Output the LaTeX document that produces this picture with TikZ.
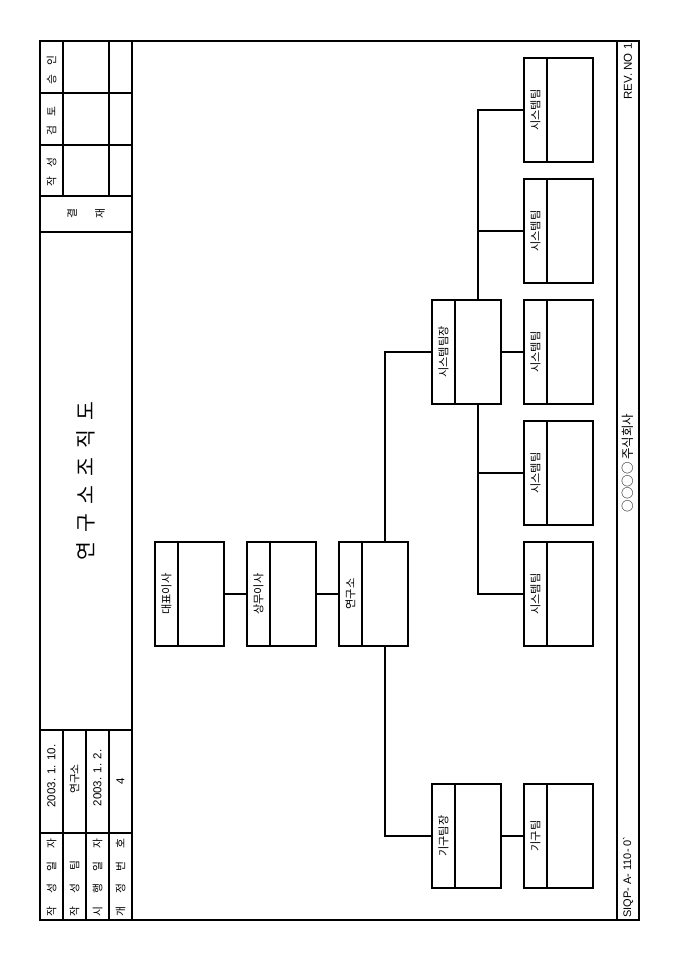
\documentclass[tikz,border=0pt]{standalone}
\usepackage{fontspec}
\setmainfont{Noto Sans CJK KR}
\newfontfamily\lat{Liberation Sans}
\begin{document}
\begin{tikzpicture}[x=1pt,y=-1pt, line width=1.05pt,
  strip/.style={draw, minimum width=23pt, minimum height=104pt, inner sep=0pt, outer sep=0pt},
  mainpart/.style={draw, minimum width=46pt, minimum height=104pt, inner sep=0pt, outer sep=0pt, anchor=west},
  lbl/.style={rotate=90, inner sep=0pt, font=\fontsize{11.2}{13}\selectfont},
  txt/.style={rotate=90, inner sep=0pt, font=\fontsize{10.8}{12}\selectfont},
  ltxt/.style={rotate=90, inner sep=0pt, font=\lat\fontsize{11.5}{13}\selectfont}]
\useasboundingbox (0,0) rectangle (680,962);
\fill[white] (0,0) rectangle (680,962);
% frame
\draw[line width=1.1pt] (40,41) rectangle (639,920);
\draw (132,41) -- (132,920);
\draw (617,41) -- (617,920);
% approval block
\foreach \y in {93,145,196,232} \draw (40,\y) -- (132,\y);
\foreach \x in {63,109} \draw (\x,41) -- (\x,196);
\node[txt] (ap1) at (51.5,70) {\makebox[28pt][s]{승\hfill 인}};
\node[txt] (ap2) at (51.5,121) {\makebox[28pt][s]{검\hfill 토}};
\node[txt] (ap3) at (51.5,172) {\makebox[28pt][s]{작\hfill 성}};
\node[txt] (gy1) at (72,214) {결};
\node[txt] (gy2) at (100,214) {재};
% info block
\draw (40,730) -- (132,730);
\draw (40,833) -- (132,833);
\foreach \x in {63,86,109} \draw (\x,730) -- (\x,920);
\node[txt, anchor=west] (i1) at (51.5,917) {\makebox[78pt][s]{작\hfill 성\hfill 일\hfill 자}};
\node[txt, anchor=west] (i2) at (74.5,917) {\makebox[56pt][s]{작\hfill 성\hfill 팀}};
\node[txt, anchor=west] (i3) at (97.5,917) {\makebox[78pt][s]{시\hfill 행\hfill 일\hfill 자}};
\node[txt, anchor=west] (i4) at (120.5,917) {\makebox[78pt][s]{개\hfill 정\hfill 번\hfill 호}};
\node[ltxt] (v1) at (51.5,776) {2003. 1. 10.};
\node[txt] (v2) at (74.5,779) {연구소};
\node[ltxt] (v3) at (97.5,778) {2003. 1. 2.};
\node[ltxt] (v4) at (120.5,781.5) {4};
% title
\node[rotate=90, inner sep=0pt, font=\fontsize{20.5}{24}\selectfont] (title) at (86,481)
  {\makebox[158pt][s]{연\hfill 구\hfill 소\hfill 조\hfill 직\hfill 도}};
% footer
\node[rotate=90, inner sep=0pt, anchor=west, font=\lat\fontsize{11}{12}\selectfont] (code) at (628,918) {SIQP- A- 110- 0\textasciigrave};
\node[rotate=90, inner sep=0pt, font=\fontsize{12.5}{14}\selectfont] (co) at (628,463) {○○○○ 주식회사};
\node[rotate=90, inner sep=0pt, anchor=east, font=\lat\fontsize{11.5}{13}\selectfont] (rev) at (628,43) {REV. NO 1};
% org boxes
\newcommand\orgbox[4]{%
  \node[strip] (#1-s) at (#2+11.5,#3) {};
  \node[mainpart] (#1) at (#1-s.east) {};
  \node[lbl] (#1-t) at (#1-s.center) {#4};
}
\orgbox{ceo}{155}{594}{대표이사}
\orgbox{vp}{247}{594}{상무이사}
\orgbox{lab}{339}{594}{연구소}
\orgbox{stl}{432}{352}{시스템팀장}
\orgbox{mtl}{432}{836}{기구팀장}
\orgbox{mt}{524}{836}{기구팀}
\orgbox{st1}{524}{110}{시스템팀}
\orgbox{st2}{524}{231}{시스템팀}
\orgbox{st3}{524}{352}{시스템팀}
\orgbox{st4}{524}{473}{시스템팀}
\orgbox{st5}{524}{594}{시스템팀}
% connectors
\draw (ceo.east) -- (vp-s.west);
\draw (vp.east) -- (lab-s.west);
\draw (lab.north) |- (stl-s.west);
\draw (lab.south) |- (mtl-s.west);
\draw (mtl.east) -- (mt-s.west);
\draw (stl.east) -- (st3-s.west);
\draw (stl.north) |- (st1-s.west);
\draw (stl.north) |- (st2-s.west);
\draw (stl.south) |- (st4-s.west);
\draw (stl.south) |- (st5-s.west);
\end{tikzpicture}
\end{document}
